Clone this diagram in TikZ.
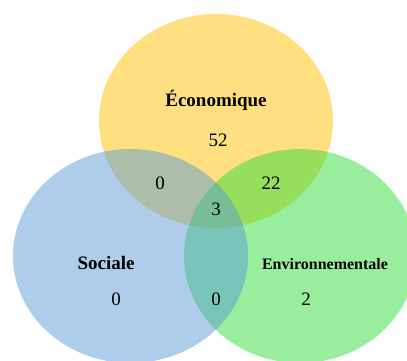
\documentclass[tikz,border=0pt]{standalone}
\usepackage{fontspec}
\setmainfont{Liberation Serif}
\usepackage{xcolor}
\usetikzlibrary{positioning}

\definecolor{ecoyellow}{HTML}{FFC000}
\definecolor{socblue}{HTML}{5B9BD5}
\definecolor{envgreen}{HTML}{31DD39}

\begin{document}
\begin{tikzpicture}[
    x=1pt, y=1pt,
    setfill/.style={fill opacity=0.5, draw=none},
    setname/.style={font=\fontsize{19}{22}\selectfont\bfseries, inner sep=0pt},
    count/.style={font=\fontsize{19}{22}\selectfont, inner sep=0pt}
]
\useasboundingbox (0,0) rectangle (407,361);
\clip (0,0) rectangle (407,361);

% the three sets
\fill[setfill, fill=ecoyellow] (216,240) ellipse [x radius=117, y radius=107];
\fill[setfill, fill=envgreen] (300,105) ellipse [x radius=116, y radius=107];
\fill[setfill, fill=socblue] (130.5,105) ellipse [x radius=117.5, y radius=107];

% names
\node[setname] (Eco) at (216,261) {Économique};
\node[setname] (Soc) at (106,98) {Sociale};
\node[setname, font=\fontsize{16}{19}\selectfont\bfseries] (Env) at (325,97) {Environnementale};

% counts
\node[count] (nEco) at (218,221) {52};
\node[count] (nEcoSoc) at (160,178) {0};
\node[count] (nEcoEnv) at (271,178) {22};
\node[count] (nAll) at (216,152) {3};
\node[count] (nSoc) at (116,62) {0};
\node[count] (nSocEnv) at (216,62) {0};
\node[count] (nEnv) at (306,62) {2};

\end{tikzpicture}
\end{document}
